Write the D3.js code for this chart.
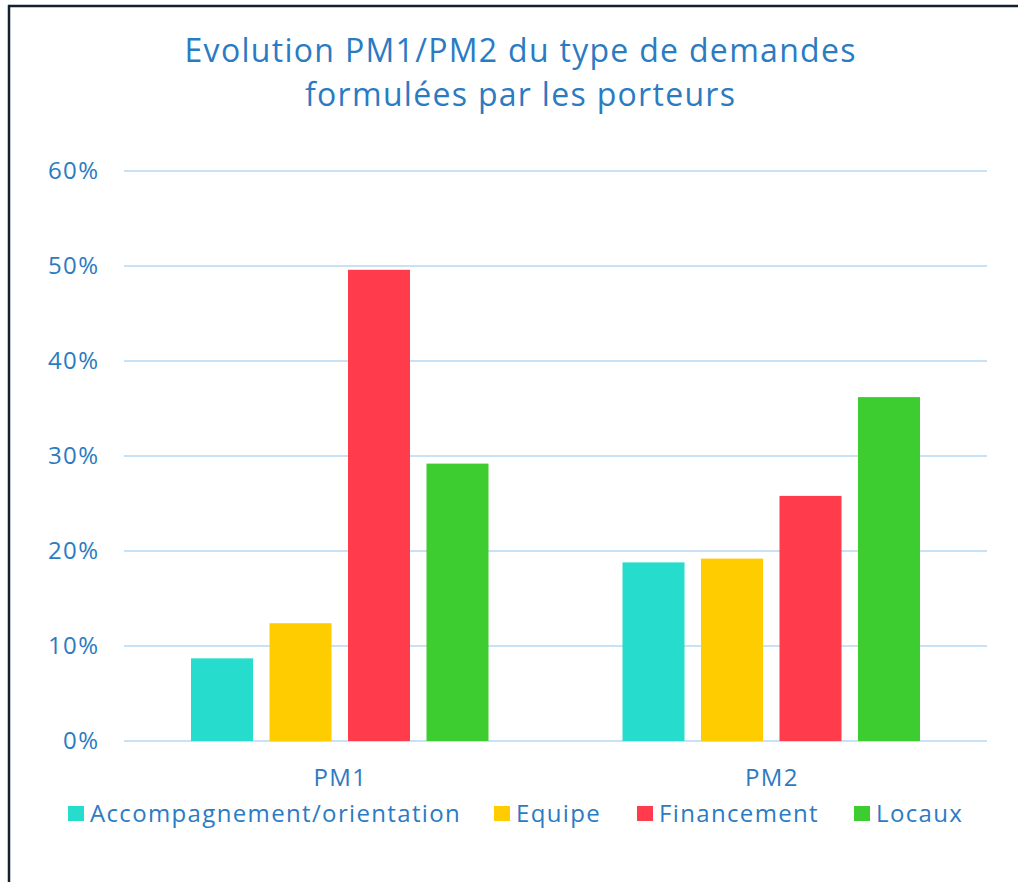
<!DOCTYPE html>
<html>
<head>
<meta charset="utf-8">
<script src="https://cdn.jsdelivr.net/npm/d3@7"></script>
<style>
  body { margin: 0; background: #fff; }
  text { font-family: "Open Sans", "Noto Sans", sans-serif; fill: #2b7bc3; }
</style>
</head>
<body>
<div id="chart"></div>
<script>
// data
let categories = ["PM1", "PM2"];
let series = ["Accompagnement/orientation", "Equipe", "Financement", "Locaux"];
let colors = ["#26dccc", "#ffcc00", "#ff3b4c", "#3ecd30"];
let pm1_values = [8.7, 12.4, 49.6, 29.2];
let pm2_values = [18.8, 19.2, 25.8, 36.2];
let y_ticks = [0, 10, 20, 30, 40, 50, 60];
let title_lines = ["Evolution PM1/PM2 du type de demandes", "formulées par les porteurs"];

let window_width = 1018;
let window_height = 882;

let plot_left = 124;
let plot_right = 987;
let plot_top = 171;
let plot_bottom = 741;
let spacing = 1.35;
let title_spacing = 1.3;

let svg = d3.select("#chart").append("svg")
    .attr("width", window_width)
    .attr("height", window_height);

// frame lines (top + left)
svg.append("line")
    .attr("x1", 8).attr("y1", 6).attr("x2", window_width).attr("y2", 6)
    .attr("stroke", "#14202e").attr("stroke-width", 2.5);
svg.append("line")
    .attr("x1", 9).attr("y1", 5).attr("x2", 9).attr("y2", window_height)
    .attr("stroke", "#14202e").attr("stroke-width", 2.5);

// title
svg.selectAll(".title")
    .data(title_lines)
    .enter()
    .append("text")
    .classed("title", true)
    .attr("x", 520 + title_spacing / 2)
    .attr("y", (d, i) => 62 + i * 44)
    .attr("text-anchor", "middle")
    .style("font-size", "32px")
    .style("letter-spacing", title_spacing + "px")
    .text(d => d);

let y = d3.scaleLinear().domain([0, 60]).range([plot_bottom, plot_top]);
let x0 = d3.scaleBand().domain(categories).range([plot_left, plot_right]).padding(0);
let group_pad = 67;
let x1 = d3.scaleBand().domain(series)
    .range([group_pad, x0.bandwidth() - group_pad])
    .paddingInner(0.21).paddingOuter(0);

// grid lines
svg.append("g")
    .selectAll("line")
    .data(y_ticks)
    .enter()
    .append("line")
    .attr("x1", plot_left)
    .attr("x2", plot_right)
    .attr("y1", d => y(d))
    .attr("y2", d => y(d))
    .attr("stroke", "#c9e1f4")
    .attr("stroke-width", 2);

// y labels
svg.append("g")
    .selectAll("text")
    .data(y_ticks)
    .enter()
    .append("text")
    .attr("x", 98 + spacing)
    .attr("y", d => y(d) + 8)
    .attr("text-anchor", "end")
    .style("font-size", "24px")
    .style("letter-spacing", spacing + "px")
    .text(d => d + "%");

// bars
let rows = categories.map((c, i) => ({cat: c, values: i == 0 ? pm1_values : pm2_values}));
let groups = svg.append("g")
    .selectAll("g")
    .data(rows)
    .enter()
    .append("g")
    .attr("transform", d => "translate(" + x0(d.cat) + ",0)");

groups.selectAll("rect")
    .data(d => d.values.map((v, i) => ({name: series[i], value: v, color: colors[i]})))
    .enter()
    .append("rect")
    .attr("x", d => x1(d.name))
    .attr("width", x1.bandwidth())
    .attr("y", d => y(d.value))
    .attr("height", d => y(0) - y(d.value))
    .style("fill", d => d.color);

// category labels
svg.append("g")
    .selectAll("text")
    .data(categories)
    .enter()
    .append("text")
    .attr("x", d => x0(d) + x0.bandwidth() / 2 + spacing / 2)
    .attr("y", 786)
    .attr("text-anchor", "middle")
    .style("font-size", "24px")
    .style("letter-spacing", spacing + "px")
    .text(d => d);

// legend
let legend_x = [68, 494, 637, 854];
let legend = svg.append("g")
    .selectAll("g")
    .data(series)
    .enter()
    .append("g")
    .attr("transform", (d, i) => "translate(" + legend_x[i] + ",806)");
legend.append("rect")
    .attr("width", 16)
    .attr("height", 15)
    .style("fill", (d, i) => colors[i]);
legend.append("text")
    .attr("x", 22)
    .attr("y", 16)
    .style("font-size", "24px")
    .style("letter-spacing", spacing + "px")
    .text(d => d);
</script>
</body>
</html>
